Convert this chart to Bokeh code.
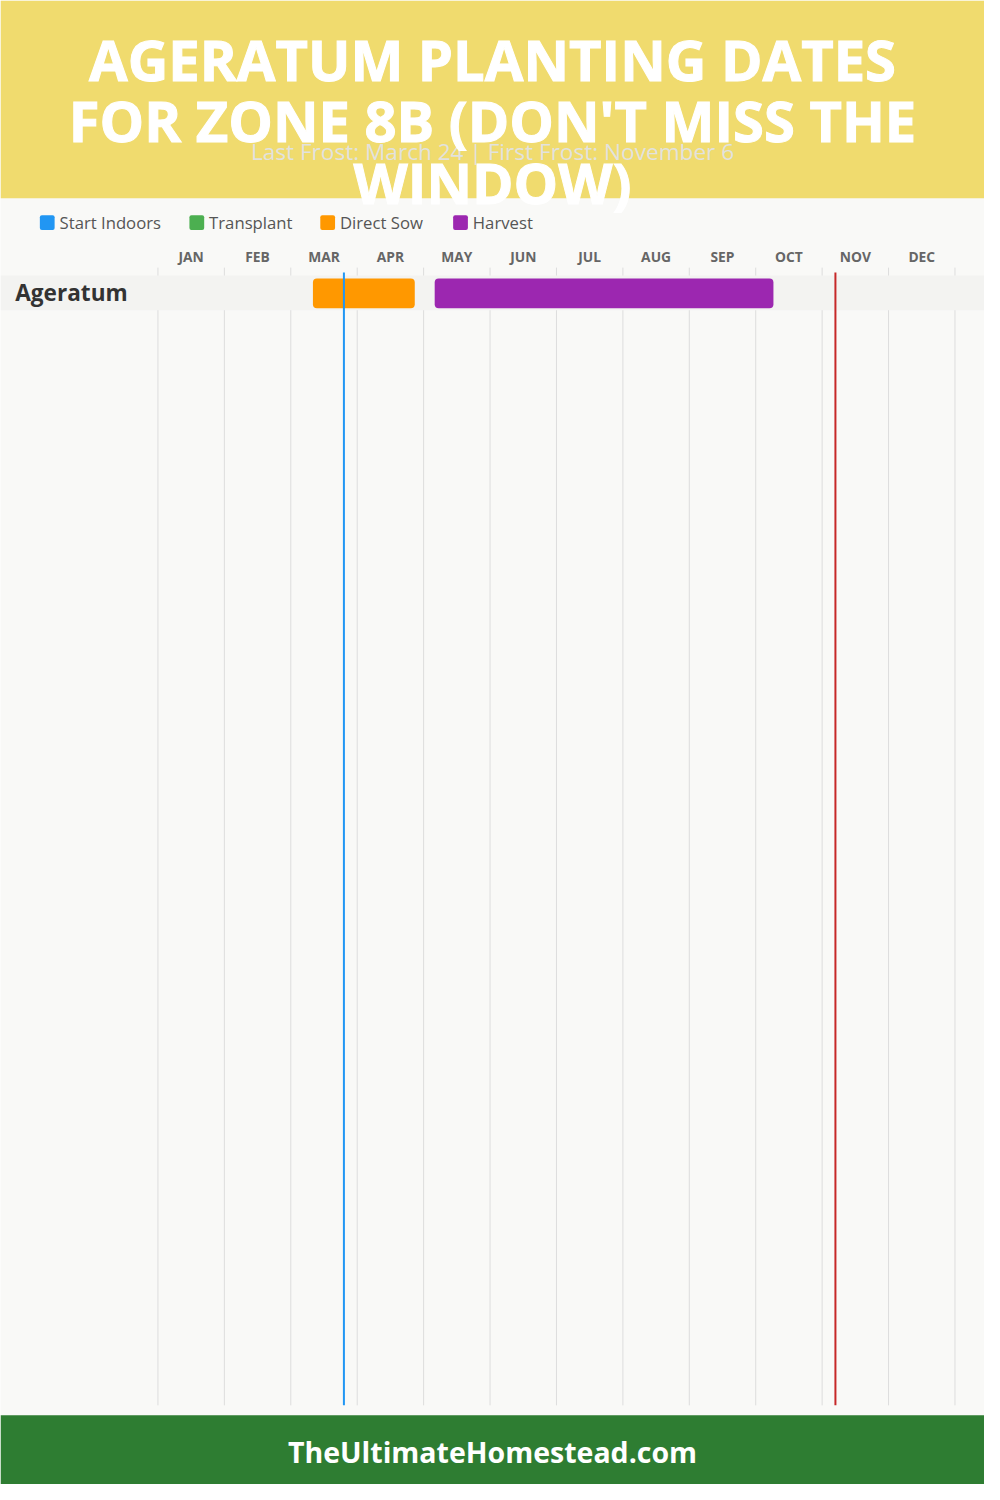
from bokeh.plotting import figure
from bokeh.models import Range1d, ColumnDataSource
from bokeh.core.properties import value
from bokeh.embed import file_html
from bokeh.resources import INLINE

# ---------------- data ----------------
months = ["JAN", "FEB", "MAR", "APR", "MAY", "JUN", "JUL", "AUG", "SEP", "OCT", "NOV", "DEC"]
crops = ["Ageratum"]

direct_sow_start_month = [3]
direct_sow_start_day = [10]
direct_sow_end_month = [4]
direct_sow_end_day = [26]

harvest_start_month = [5]
harvest_start_day = [5]
harvest_end_month = [10]
harvest_end_day = [8]

last_frost_month, last_frost_day = 3, 24
first_frost_month, first_frost_day = 11, 6

legend_labels = ["Start Indoors", "Transplant", "Direct Sow", "Harvest"]
legend_colors = ["#2196F3", "#4CAF50", "#FF9800", "#9C27B0"]

title_lines = ["AGERATUM PLANTING DATES", "FOR ZONE 8B (DON'T MISS THE", "WINDOW)"]
subtitle = "Last Frost: March 24 | First Frost: November 6"
footer = "TheUltimateHomestead.com"

# ---------------- layout ----------------
W, H = 984, 1484
DW, DH = 1000, 1500          # design space
S = W / DW
CHART_LEFT_PX = 160          # x of January start in design pixels
MONTH_PX = 67.5              # width of one month in design pixels


def frac(m, d):
    return (m - 1) + d / 30.0


def fs(px):
    return f"{px * S:.1f}px"


def base(y, px):
    # place alphabetic baseline at design y (compensate renderer offset)
    return y - 0.4 * px


x_lo = (0 - CHART_LEFT_PX) / MONTH_PX
x_hi = (DW - CHART_LEFT_PX) / MONTH_PX

p = figure(width=W, height=H, output_backend="svg", toolbar_location=None,
           x_range=Range1d(x_lo, x_hi), y_range=Range1d(DH, 0),
           x_axis_location=None, y_axis_location=None,
           min_border=0, outline_line_color=None,
           background_fill_color="#F9F9F7", border_fill_color="#F9F9F7")
p.extra_x_ranges = {"px": Range1d(0, DW)}
p.grid.visible = False

FONT = value("Open Sans")

# header & footer bands
p.quad(left=[0], right=[DW], top=[0], bottom=[200], x_range_name="px",
       fill_color="#F0DB6E", line_color=None)
p.quad(left=[0], right=[DW], top=[1430], bottom=[DH], x_range_name="px",
       fill_color="#2E7D32", line_color=None)

# legend
legend_x = [40, 192, 325, 460]
p.quad(left=legend_x, right=[x + 15 for x in legend_x], top=[217] * 4, bottom=[232] * 4,
       x_range_name="px", fill_color=legend_colors, line_color=None, border_radius=2)
p.text(x=[x + 20 for x in legend_x], y=[base(231, 17)] * 4, text=legend_labels,
       x_range_name="px", text_font=FONT, text_font_size=fs(17), text_color="#555555",
       text_baseline="alphabetic", text_align="left")

# month grid lines
bounds = list(range(len(months) + 1))
p.segment(x0=bounds, x1=bounds, y0=[270] * len(bounds), y1=[1420] * len(bounds),
          line_color="#DDDDDD", line_width=1)

# month labels
p.text(x=[i + 0.5 for i in range(len(months))], y=[base(264, 14)] * len(months), text=months,
       text_font=FONT, text_font_style="bold", text_font_size=fs(14),
       text_color="#666666", text_align="center", text_baseline="alphabetic")

# crop rows
ROW_TOP, ROW_H = 278, 35
row_tops = [ROW_TOP + i * ROW_H for i in range(len(crops))]
p.quad(left=[0] * len(crops), right=[DW] * len(crops), top=row_tops,
       bottom=[t + ROW_H for t in row_tops], x_range_name="px",
       fill_color="#F3F3F1", line_color=None)
p.text(x=[15] * len(crops), y=[base(t + 26, 23) for t in row_tops], text=crops,
       x_range_name="px", text_font=FONT, text_font_style="bold", text_font_size=fs(23),
       text_color="#333333", text_baseline="alphabetic")

sow = ColumnDataSource(dict(
    left=[frac(m, d) for m, d in zip(direct_sow_start_month, direct_sow_start_day)],
    right=[frac(m, d) for m, d in zip(direct_sow_end_month, direct_sow_end_day)],
    top=[t + 3 for t in row_tops], bottom=[t + 33 for t in row_tops]))
p.quad(left="left", right="right", top="top", bottom="bottom", source=sow,
       fill_color=legend_colors[2], line_color=None, border_radius=4)

har = ColumnDataSource(dict(
    left=[frac(m, d) for m, d in zip(harvest_start_month, harvest_start_day)],
    right=[frac(m, d) for m, d in zip(harvest_end_month, harvest_end_day)],
    top=[t + 3 for t in row_tops], bottom=[t + 33 for t in row_tops]))
p.quad(left="left", right="right", top="top", bottom="bottom", source=har,
       fill_color=legend_colors[3], line_color=None, border_radius=4)

# frost lines
lf = frac(last_frost_month, last_frost_day)
ff = frac(first_frost_month, first_frost_day)
p.segment(x0=[lf], x1=[lf], y0=[275], y1=[1420], line_color="#2196F3", line_width=2)
p.segment(x0=[ff], x1=[ff], y0=[275], y1=[1420], line_color="#C62828", line_width=2)

# subtitle and title
p.text(x=[500], y=[base(162, 23)], text=[subtitle], x_range_name="px", text_font=FONT,
       text_font_size=fs(23), text_color="#E2E2DE", text_align="center",
       text_baseline="alphabetic")
p.text(x=[500] * 3, y=[base(b, 57) for b in (82, 144, 206)], text=title_lines,
       x_range_name="px", text_font=FONT, text_font_style="bold", text_font_size=fs(57),
       text_color="#FFFFFF", text_outline_color="#FFFFFF", text_align="center",
       text_baseline="alphabetic")

# footer text
p.text(x=[500], y=[base(1479, 29)], text=[footer], x_range_name="px", text_font=FONT,
       text_font_style="bold", text_font_size=fs(29), text_color="#FFFFFF",
       text_align="center", text_baseline="alphabetic")

open("out.html", "w").write(file_html(p, INLINE))
